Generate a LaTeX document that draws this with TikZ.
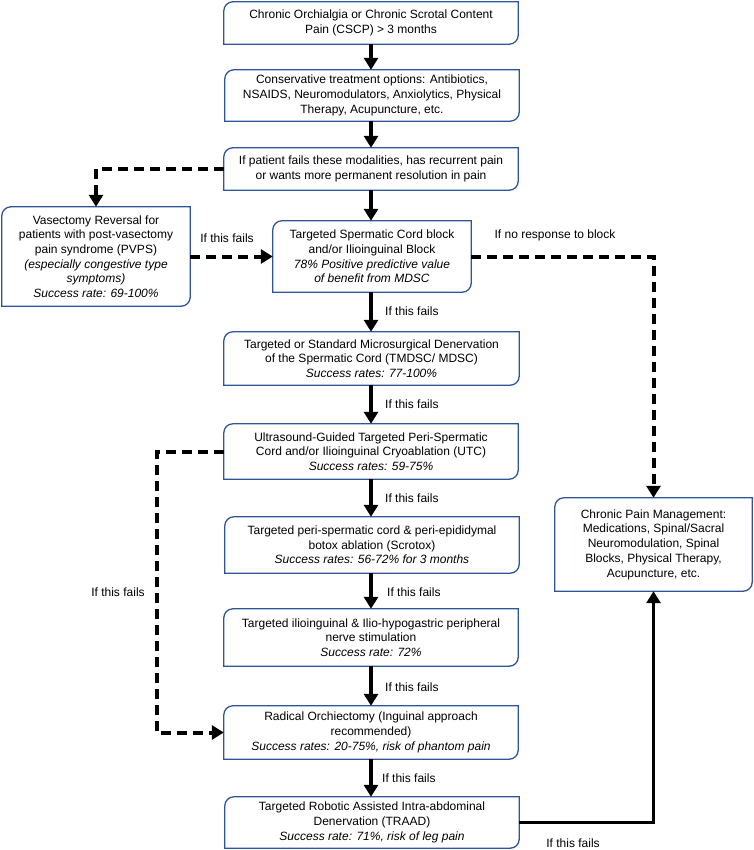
\documentclass[tikz,border=0pt]{standalone}
\usepackage{fontspec}
\setmainfont{Liberation Sans}
\usetikzlibrary{arrows.meta}
\definecolor{boxblue}{HTML}{2F5597}
\tikzset{
  box/.style={inner sep=0pt, align=center, font=\fontsize{12}{14.7}\selectfont},
  outline/.style={draw=boxblue, line width=1.3pt},
  solidarrow/.style={line width=3.8pt, -{Triangle[length=12pt,width=14pt]}},
  dasharrow/.style={line width=4pt, dash pattern=on 10pt off 6pt, -{Triangle[length=12pt,width=14pt]}},
  lbl/.style={font=\fontsize{12}{14}\selectfont, inner sep=0pt},
}
\newcommand\flowbox[6]{%
  \node[box, minimum width=#4pt, minimum height=#5pt] (#1) at (#2pt,-#3pt) {#6};
  \draw[outline] (#1.south west) -- ([yshift=-9pt]#1.north west)
    arc[start angle=180,end angle=90,radius=9pt] -- (#1.north east)
    -- ([yshift=9pt]#1.south east) arc[start angle=0,end angle=-90,radius=9pt] -- cycle;}
\begin{document}
\begin{tikzpicture}[x=1pt,y=1pt]
\useasboundingbox (0,0) rectangle (753,-850);
\flowbox{b1}{371}{23}{294}{42}{Chronic Orchialgia or Chronic Scrotal Content\\Pain (CSCP) > 3 months}
\flowbox{b2}{372}{95.5}{294}{51}{Conservative treatment options: Antibiotics,\\NSAIDS, Neuromodulators, Anxiolytics, Physical\\Therapy, Acupuncture, etc.}
\flowbox{b3}{371}{169}{294}{42}{If patient fails these modalities, has recurrent pain\\or wants more permanent resolution in pain}
\flowbox{vas}{96}{256.5}{188}{99}{Vasectomy Reversal for\\patients with post-vasectomy\\pain syndrome (PVPS)\\\textit{(especially congestive type}\\\textit{symptoms)}\\\textit{Success rate: 69-100\%}}
\flowbox{blk}{372}{256.5}{198}{71}{Targeted Spermatic Cord block\\and/or Ilioinguinal Block\\\textit{78\% Positive predictive value}\\\textit{of benefit from MDSC}}
\flowbox{tm}{371.5}{358.5}{295}{53}{Targeted or Standard Microsurgical Denervation\\of the Spermatic Cord (TMDSC/ MDSC)\\\textit{Success rates: 77-100\%}}
\flowbox{utc}{371}{451.5}{294}{55}{Ultrasound-Guided Targeted Peri-Spermatic\\Cord and/or Ilioinguinal Cryoablation (UTC)\\\textit{Success rates: 59-75\%}}
\flowbox{scr}{372}{545}{294}{56}{Targeted peri-spermatic cord \& peri-epididymal\\botox ablation (Scrotox)\\\textit{Success rates: 56-72\% for 3 months}}
\flowbox{stim}{371}{637.5}{294}{57}{Targeted ilioinguinal \& Ilio-hypogastric peripheral\\nerve stimulation\\\textit{Success rate: 72\%}}
\flowbox{rad}{371}{732.5}{294}{53}{Radical Orchiectomy (Inguinal approach\\recommended)\\\textit{Success rates: 20-75\%, risk of phantom pain}}
\flowbox{tra}{372}{822.5}{294}{51}{Targeted Robotic Assisted Intra-abdominal\\Denervation (TRAAD)\\\textit{Success rate: 71\%, risk of leg pain}}
\flowbox{cpm}{653.5}{544.5}{197}{93}{Chronic Pain Management:\\Medications, Spinal/Sacral\\Neuromodulation, Spinal\\Blocks, Physical Therapy,\\Acupuncture, etc.}
\coordinate (lx) at (157,0);
% solid connectors
\draw[solidarrow] (b1.south -| 371,0) -- (b2.north -| 371,0);
\draw[solidarrow] (b2.south -| 371,0) -- (b3.north -| 371,0);
\draw[solidarrow] (b3.south -| 371,0) -- (blk.north -| 371,0);
\draw[solidarrow] (blk.south -| 371,0) -- (tm.north -| 371,0);
\draw[solidarrow] (tm.south -| 371,0) -- (utc.north -| 371,0);
\draw[solidarrow] (utc.south -| 371,0) -- (scr.north -| 371,0);
\draw[solidarrow] (scr.south -| 371,0) -- (stim.north -| 371,0);
\draw[solidarrow] (stim.south -| 371,0) -- (rad.north -| 371,0);
\draw[solidarrow] (rad.south -| 371,0) -- (tra.north -| 371,0);
\draw[solidarrow] (tra.east) -| (cpm.south);
% dashed connectors
\draw[dasharrow] (b3.west) -| (vas.north);
\draw[dasharrow] (vas.east) -- (blk.west);
\draw[dasharrow] (blk.east) -| (cpm.north);
\draw[dasharrow] (utc.west) -- (utc.west -| lx) |- (rad.west);
% labels
\node[lbl] (l1) at (227,-238) {If this fails};
\node[lbl] (l2) at (555,-235) {If no response to block};
\node[lbl, anchor=west] (l3) at (385,-311) {If this fails};
\node[lbl, anchor=west] (l4) at (385,-404) {If this fails};
\node[lbl, anchor=west] (l5) at (385,-498) {If this fails};
\node[lbl, anchor=west] (l6) at (387,-592) {If this fails};
\node[lbl, anchor=west] (l7) at (385,-687) {If this fails};
\node[lbl, anchor=west] (l8) at (382,-778) {If this fails};
\node[lbl] (l9) at (118,-592) {If this fails};
\node[lbl] (l10) at (573,-843) {If this fails};
\end{tikzpicture}
\end{document}
